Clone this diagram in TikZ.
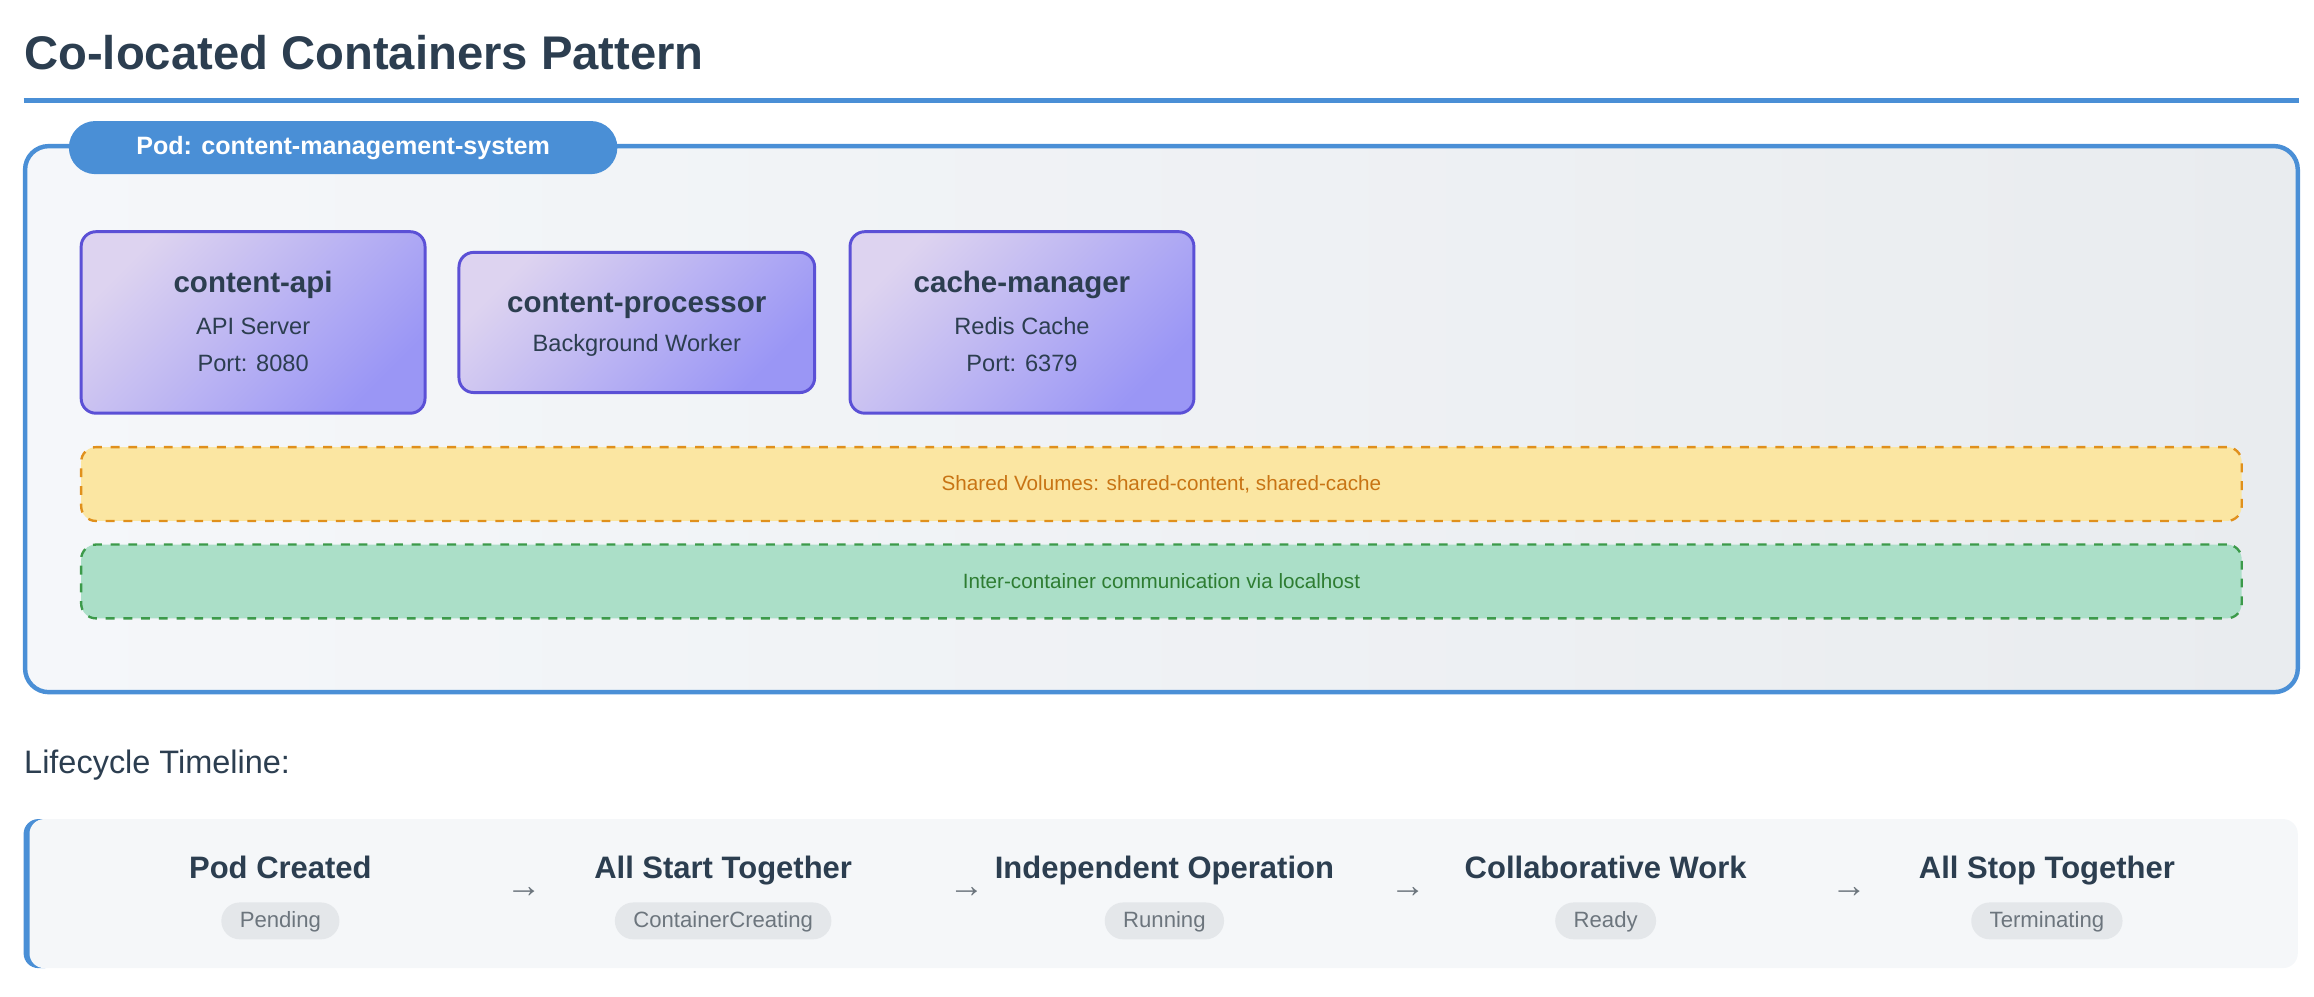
\documentclass[tikz,border=0pt]{standalone}
\usepackage{fontspec}
\setmainfont{Liberation Sans}
\usetikzlibrary{shapes.misc}
\definecolor{dark}{HTML}{2C3E50}
\definecolor{blu}{HTML}{4A8FD6}
\definecolor{cbord}{HTML}{5B50D6}
\definecolor{ctop}{HTML}{DDD3F0}
\definecolor{cbot}{HTML}{9A96F5}
\definecolor{yfill}{HTML}{FBE6A2}
\definecolor{ybord}{HTML}{E0901C}
\definecolor{ytext}{HTML}{C87414}
\definecolor{gfill}{HTML}{ABDFC8}
\definecolor{gbord}{HTML}{3C9A4A}
\definecolor{gtext}{HTML}{2E7D32}
\definecolor{pill}{HTML}{E4E7EA}
\definecolor{pilltext}{HTML}{6C757D}
\definecolor{podl}{HTML}{F5F7FA}
\definecolor{podr}{HTML}{E9ECEF}
\definecolor{tlfill}{HTML}{F5F7F9}
\begin{document}
\begin{tikzpicture}[x=0.5pt,y=-0.5pt,
  cont/.style={draw=cbord,line width=1pt,rounded corners=5pt,left color=ctop,right color=cbot,shading angle=45,align=center,inner sep=0pt},
  ctitle/.style={font=\bfseries\fontsize{10}{12}\selectfont,text=dark},
  band/.style={draw=#1,dashed,line width=0.8pt,rounded corners=5pt,minimum width=732pt,minimum height=25pt,font=\fontsize{7}{8}\selectfont},
  stage/.style={font=\bfseries\fontsize{10.5}{12}\selectfont,text=dark,text height=8pt,text depth=2pt},
  state/.style={fill=pill,rounded rectangle,text=pilltext,font=\fontsize{7.5}{9}\selectfont,inner xsep=5pt,inner ysep=2.5pt,text height=6pt,text depth=1.5pt},
  arr/.style={text=pilltext,font=\fontsize{12}{12}\selectfont}]
\useasboundingbox (0,0) rectangle (1568,675);
\node[anchor=base west,font=\bfseries\fontsize{16}{19}\selectfont,text=dark,inner sep=0pt] (title) at (16,47) {Co-located Containers Pattern};
\draw[blu,line width=1.5pt] (16,68) -- (1558,68);
\draw[blu,line width=1.5pt,rounded corners=8pt,left color=podl,right color=podr] (17,99) rectangle (1557,469);
\node[fill=blu,rounded rectangle,text=white,font=\bfseries\fontsize{8.5}{10}\selectfont,minimum width=192.5pt,minimum height=18pt] (pod) at (232.5,100) {Pod: content-management-system};
\node[cont,minimum width=116.5pt,minimum height=61.5pt] (c1) at (171.5,218.5) {};
\node[ctitle] at (171.5,193) {content-api};
\node[font=\fontsize{8}{10}\selectfont,text=dark] at (171.5,221) {API Server};
\node[font=\fontsize{8}{10}\selectfont,text=dark] at (171.5,246) {Port: 8080};
\node[cont,minimum width=120.5pt,minimum height=47.5pt] (c2) at (431.5,218.5) {};
\node[ctitle] at (431.5,207) {content-processor};
\node[font=\fontsize{8}{10}\selectfont,text=dark] at (431.5,234) {Background Worker};
\node[cont,minimum width=116.5pt,minimum height=61.5pt] (c3) at (692.5,218.5) {};
\node[ctitle] at (692.5,193) {cache-manager};
\node[font=\fontsize{8}{10}\selectfont,text=dark] at (692.5,221) {Redis Cache};
\node[font=\fontsize{8}{10}\selectfont,text=dark] at (692.5,246) {Port: 6379};
\node[band=ybord,fill=yfill,text=ytext] (vol) at (787,328) {Shared Volumes: shared-content, shared-cache};
\node[band=gbord,fill=gfill,text=gtext] (net) at (787,394) {Inter-container communication via localhost};
\node[anchor=base west,font=\fontsize{11}{13}\selectfont,text=dark,inner sep=0pt] (lt) at (16,524) {Lifecycle Timeline:};
\fill[blu,rounded corners=5pt] (16,555) rectangle (40,656);
\fill[tlfill,rounded corners=5pt] (20,555) rectangle (1557,656);
\node[stage] (s1) at (190,589) {Pod Created};
\node[state] (p1) at (190,624) {Pending};
\node[stage] (s2) at (490,589) {All Start Together};
\node[state] (p2) at (490,624) {ContainerCreating};
\node[stage] (s3) at (789,589) {Independent Operation};
\node[state] (p3) at (789,624) {Running};
\node[stage] (s4) at (1088,589) {Collaborative Work};
\node[state] (p4) at (1088,624) {Ready};
\node[stage] (s5) at (1387,589) {All Stop Together};
\node[state] (p5) at (1387,624) {Terminating};
\node[arr] (a1) at (355,605) {→};
\node[arr] (a2) at (655,605) {→};
\node[arr] (a3) at (954,605) {→};
\node[arr] (a4) at (1253,605) {→};
\end{tikzpicture}
\end{document}
